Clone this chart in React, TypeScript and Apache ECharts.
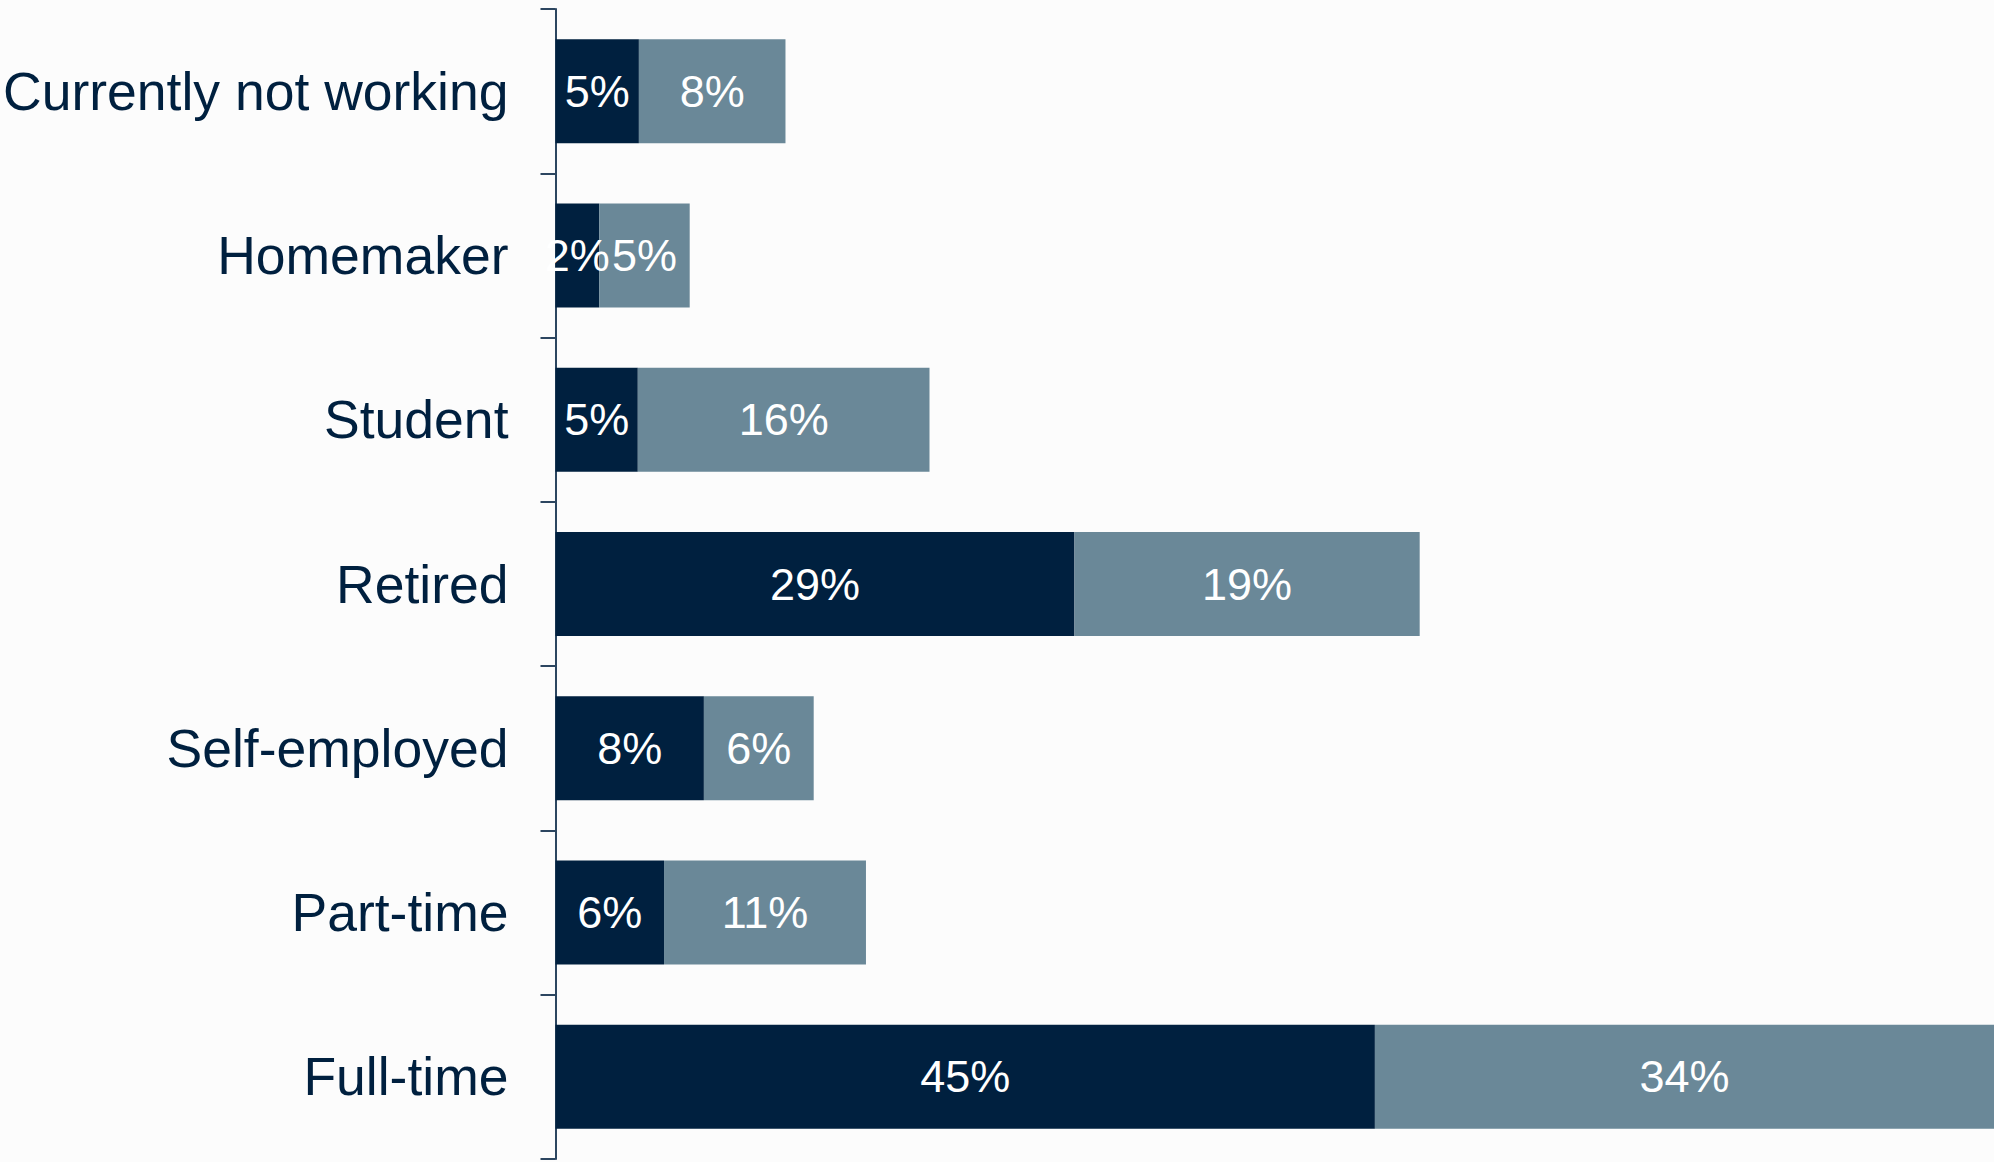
import React, { useEffect, useRef } from "react";
import * as echarts from "echarts";

const categories = [
  "Currently not working",
  "Homemaker",
  "Student",
  "Retired",
  "Self-employed",
  "Part-time",
  "Full-time",
];
const darkValues = [4.58, 2.4, 4.52, 28.5, 8.15, 5.96, 45];
const lightValues = [8.05, 4.97, 16.02, 18.96, 6.03, 11.09, 34];

const DARK = "#00203F";
const LIGHT = "#6A8898";
const FONT = "'Liberation Sans', Arial, sans-serif";

export default function App() {
  const ref = useRef<HTMLDivElement>(null);
  useEffect(() => {
    if (!ref.current) return;
    const chart = echarts.init(ref.current, null, { renderer: "svg" });
    const label = {
      show: true,
      position: "inside",
      color: "#FFFFFF",
      fontSize: 45,
      fontFamily: FONT,
      formatter: (p: any) => Math.round(p.value) + "%",
    };
    chart.setOption({
      animation: false,
      backgroundColor: "#FCFCFC",
      grid: { left: 555.5, top: 9, width: 1442, height: 1150, containLabel: false },
      xAxis: {
        type: "value",
        min: 0,
        max: 79,
        show: false,
      },
      yAxis: {
        type: "category",
        data: categories,
        inverse: true,
        axisLine: { show: true, lineStyle: { color: "#2C4660", width: 2 } },
        axisTick: { show: true, length: 15, inside: false, lineStyle: { color: "#2C4660", width: 2 } },
        axisLabel: {
          color: DARK,
          fontSize: 53.5,
          fontFamily: FONT,
          margin: 47,
        },
        splitLine: { show: false },
      },
      series: [
        {
          type: "bar",
          stack: "total",
          data: darkValues,
          barWidth: 104,
          itemStyle: { color: DARK },
          label,
        },
        {
          type: "bar",
          stack: "total",
          data: lightValues,
          barWidth: 104,
          itemStyle: { color: LIGHT },
          label,
        },
      ],
    });
    return () => chart.dispose();
  }, []);
  return (
    <div
      ref={ref}
      style={{ position: "absolute", left: 0, top: 0, width: 1994, height: 1162 }}
    />
  );
}
